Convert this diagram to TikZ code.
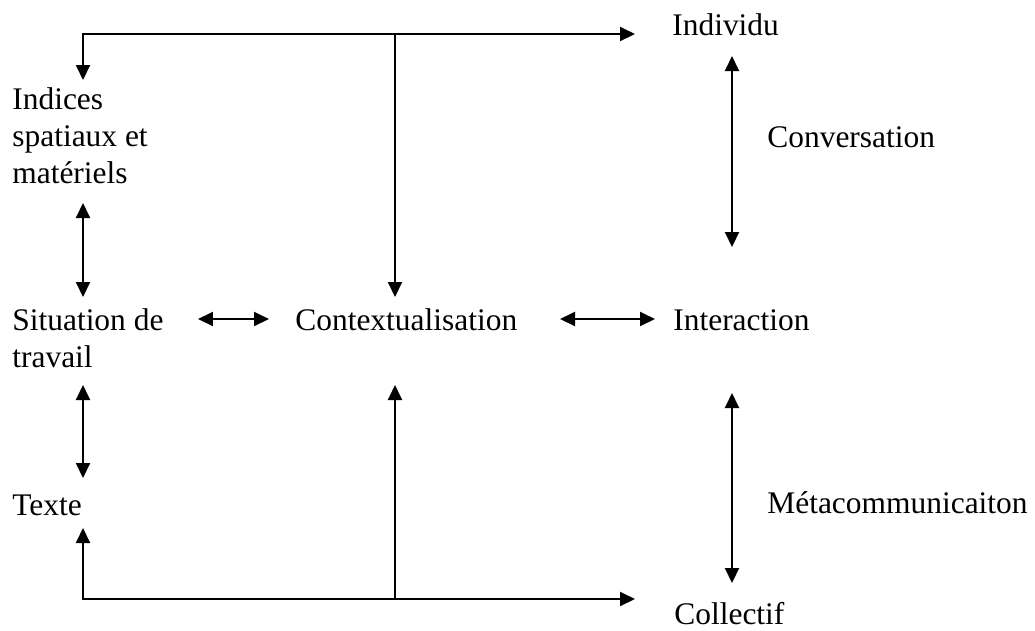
\documentclass[tikz,border=0pt]{standalone}
\usepackage{fontspec}
\setmainfont{Liberation Serif}
\usetikzlibrary{positioning, arrows.meta}

\begin{document}
\begin{tikzpicture}[
  x=0.02cm, y=-0.02cm,
  term/.style={font=\fontsize{17.9}{20.8}\selectfont, anchor=base west, inner sep=0pt, align=left},
  link/.style={line width=0.04cm, >={Triangle[length=0.3cm, width=0.28cm]}},
]
  \useasboundingbox (0,0) rectangle (1035,630);

  % terms (base = last line)
  \node[term] (indices)      at (12,183)  {Indices\\spatiaux et\\matériels};
  \node[term] (situation)    at (12,367)  {Situation de\\travail};
  \node[term] (texte)        at (12,515)  {Texte};
  \node[term] (context)      at (295,330) {Contextualisation};
  \node[term] (individu)     at (672,35)  {Individu};
  \node[term] (interaction)  at (673,330) {Interaction};
  \node[term] (collectif)    at (674,624) {Collectif};
  \node[term] (conversation) at (767,147) {Conversation};
  \node[term] (meta)         at (767,513) {Métacommunicaiton};

  % arrow ends
  \coordinate (indicesIn)    at (83,80);
  \coordinate (individuIn)   at (635,34);
  \coordinate (topMid)       at (395,34);
  \coordinate (contextAbove) at (395,297);
  \coordinate (textIn)       at (83,528);
  \coordinate (collectifIn)  at (635,599);
  \coordinate (botMid)       at (395,599);
  \coordinate (contextBelow) at (395,385);

  % frame lines
  \draw[link, <->] (indicesIn) |- (individuIn);
  \draw[link, ->]  (topMid) -- (contextAbove);
  \draw[link, <->] (textIn) |- (collectifIn);
  \draw[link, ->]  (botMid) -- (contextBelow);

  % left column
  \draw[link, <->] (83,203) coordinate (indicesOut) -- (83,297) coordinate (situationIn);
  \draw[link, <->] (83,385) coordinate (situationOut) -- (83,478) coordinate (texteIn);

  % middle row
  \draw[link, <->] (198,319) coordinate (situationRight) -- (269,319) coordinate (contextLeft);
  \draw[link, <->] (560,319) coordinate (contextRight) -- (655,319) coordinate (interactionLeft);

  % right column
  \draw[link, <->] (732,56) coordinate (individuOut) -- (732,247) coordinate (interactionIn);
  \draw[link, <->] (732,393) coordinate (interactionOut) -- (732,583) coordinate (collectifTop);
\end{tikzpicture}
\end{document}
